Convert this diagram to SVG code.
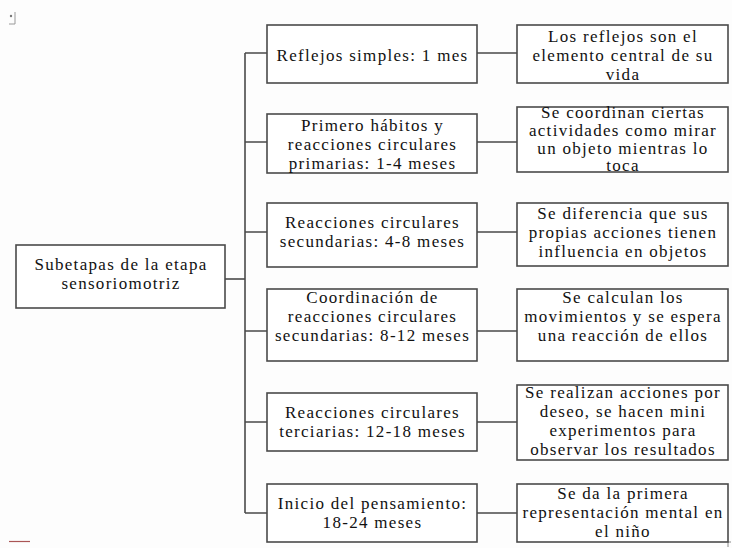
<svg xmlns="http://www.w3.org/2000/svg" width="732" height="548" viewBox="0 0 732 548">
<style>
.box{fill:#fff;stroke:#4a4a4a;stroke-width:1.6}
.ln{fill:none;stroke:#4a4a4a;stroke-width:1.6}
text{font-family:"Liberation Serif","Times New Roman",serif;font-size:17px;fill:#111;text-anchor:middle;letter-spacing:1.3px}
</style>
<rect width="732" height="548" fill="#fdfdfd"/>
<g id="marks">
<circle cx="11" cy="16" r="1.2" fill="#777"/>
<path d="M15 12 V24 H9" fill="none" stroke="#999" stroke-width="1"/>
<path d="M9 541.5 H30" stroke="#a55" stroke-width="1.2"/>
<path d="M728 547 V542 H731" fill="none" stroke="#888" stroke-width="1"/>
</g>
<g id="connectors">
<path class="ln" d="M225 279 H245"/>
<path class="ln" d="M245 53 V513"/>
<path class="ln" d="M245 53 H267 M245 142 H267 M245 232 H267 M245 331 H267 M245 422 H267 M245 513 H267"/>
<path class="ln" d="M477 53 H517 M477 142 H517 M477 232 H517 M477 331 H517 M477 422 H517 M477 513 H517"/>
</g>
<g id="root">
<rect class="box" x="16" y="245" width="209" height="63"/>
<text x="121" y="270">Subetapas de la etapa</text>
<text x="121" y="289">sensoriomotriz</text>
</g>
<g id="m1">
<rect class="box" x="267" y="25" width="210" height="58"/>
<text x="372.5" y="60.5">Reflejos simples: 1 mes</text>
</g>
<g id="m2">
<rect class="box" x="267" y="114" width="210" height="59"/>
<text x="372.5" y="130.5">Primero hábitos y</text>
<text x="372.5" y="149.5">reacciones circulares</text>
<text x="372.5" y="168.5">primarias: 1-4 meses</text>
</g>
<g id="m3">
<rect class="box" x="267" y="203" width="210" height="64"/>
<text x="372.5" y="227.5">Reacciones circulares</text>
<text x="372.5" y="246.5">secundarias: 4-8 meses</text>
</g>
<g id="m4">
<rect class="box" x="267" y="289" width="210" height="72"/>
<text x="372.5" y="303">Coordinación de</text>
<text x="372.5" y="322">reacciones circulares</text>
<text x="372.5" y="341">secundarias: 8-12 meses</text>
</g>
<g id="m5">
<rect class="box" x="267" y="393" width="210" height="58"/>
<text x="372.5" y="417.5">Reacciones circulares</text>
<text x="372.5" y="436.5">terciarias: 12-18 meses</text>
</g>
<g id="m6">
<rect class="box" x="267" y="484" width="210" height="58"/>
<text x="372.5" y="508.5">Inicio del pensamiento:</text>
<text x="372.5" y="527.5">18-24 meses</text>
</g>
<g id="r1">
<rect class="box" x="517" y="25" width="211" height="58"/>
<text x="623" y="41.5">Los reflejos son el</text>
<text x="623" y="60.5">elemento central de su</text>
<text x="623" y="79.5">vida</text>
</g>
<g id="r2">
<rect class="box" x="517" y="107" width="211" height="65"/>
<text x="623" y="117.5">Se coordinan ciertas</text>
<text x="623" y="135.5">actividades como mirar</text>
<text x="623" y="153.5">un objeto mientras lo</text>
<text x="623" y="171">toca</text>
</g>
<g id="r3">
<rect class="box" x="517" y="203" width="211" height="63"/>
<text x="623" y="218.5">Se diferencia que sus</text>
<text x="623" y="237.5">propias acciones tienen</text>
<text x="623" y="256.5">influencia en objetos</text>
</g>
<g id="r4">
<rect class="box" x="517" y="289" width="211" height="72"/>
<text x="623" y="303">Se calculan los</text>
<text x="623" y="322">movimientos y se espera</text>
<text x="623" y="341">una reacción de ellos</text>
</g>
<g id="r5">
<rect class="box" x="517" y="385" width="211" height="75"/>
<text x="623" y="398">Se realizan acciones por</text>
<text x="623" y="417">deseo, se hacen mini</text>
<text x="623" y="436">experimentos para</text>
<text x="623" y="455">observar los resultados</text>
</g>
<g id="r6">
<rect class="box" x="517" y="484" width="211" height="58"/>
<text x="623" y="499">Se da la primera</text>
<text x="623" y="518">representación mental en</text>
<text x="623" y="537">el niño</text>
</g>
</svg>
